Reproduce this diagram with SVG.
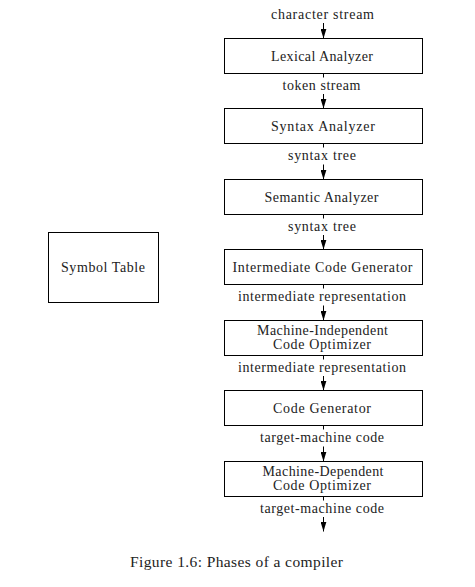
<svg xmlns="http://www.w3.org/2000/svg" width="475" height="587" viewBox="0 0 475 587">
<style>
.box{fill:#fff;stroke:#000;stroke-width:1}
.t,.lbl,.cap{font-family:"Liberation Serif","Times New Roman",serif;fill:#222;text-anchor:middle}
.t,.lbl{font-size:14px}
.cap{font-size:15.5px}
.c{stroke:#000;stroke-width:1;fill:none}
</style>
<defs>
<marker id="ah" markerUnits="userSpaceOnUse" markerWidth="10" markerHeight="6" refX="10" refY="3" orient="auto">
<path d="M0,0 L10,3 L0,6 z" fill="#000"/>
</marker>
</defs>
<rect width="475" height="587" fill="#fff"/>
<g id="connectors">
<line class="c" x1="323.5" y1="23" x2="323.5" y2="38.5" marker-end="url(#ah)"/>
<line class="c" x1="323.5" y1="73.5" x2="323.5" y2="77.5"/>
<line class="c" x1="323.5" y1="94" x2="323.5" y2="108.5" marker-end="url(#ah)"/>
<line class="c" x1="323.5" y1="143.5" x2="323.5" y2="147.5"/>
<line class="c" x1="323.5" y1="164.5" x2="323.5" y2="179.5" marker-end="url(#ah)"/>
<line class="c" x1="323.5" y1="214.5" x2="323.5" y2="218.5"/>
<line class="c" x1="323.5" y1="235" x2="323.5" y2="249.5" marker-end="url(#ah)"/>
<line class="c" x1="323.5" y1="284.5" x2="323.5" y2="288.5"/>
<line class="c" x1="323.5" y1="305.5" x2="323.5" y2="320.5" marker-end="url(#ah)"/>
<line class="c" x1="323.5" y1="355.5" x2="323.5" y2="359.5"/>
<line class="c" x1="323.5" y1="376" x2="323.5" y2="390.5" marker-end="url(#ah)"/>
<line class="c" x1="323.5" y1="425.5" x2="323.5" y2="429.5"/>
<line class="c" x1="323.5" y1="446.5" x2="323.5" y2="461.5" marker-end="url(#ah)"/>
<line class="c" x1="323.5" y1="496.5" x2="323.5" y2="500.5"/>
<line class="c" x1="323.5" y1="517" x2="323.5" y2="531.5" marker-end="url(#ah)"/>
<text class="lbl" x="322.5" y="18.5" textLength="103" lengthAdjust="spacing">character stream</text>
<text class="lbl" x="321.5" y="89.5" textLength="78" lengthAdjust="spacing">token stream</text>
<text class="lbl" x="322" y="160" textLength="68" lengthAdjust="spacing">syntax tree</text>
<text class="lbl" x="322" y="230.5" textLength="68" lengthAdjust="spacing">syntax tree</text>
<text class="lbl" x="322" y="301" textLength="168" lengthAdjust="spacing">intermediate representation</text>
<text class="lbl" x="322" y="371.5" textLength="168" lengthAdjust="spacing">intermediate representation</text>
<text class="lbl" x="322" y="442" textLength="124" lengthAdjust="spacing">target-machine code</text>
<text class="lbl" x="322" y="512.5" textLength="124" lengthAdjust="spacing">target-machine code</text>
</g>
<g id="lexical">
<rect class="box" x="224.5" y="38.5" width="198" height="35"/>
<text class="t" x="322" y="60.5" textLength="102" lengthAdjust="spacing">Lexical Analyzer</text>
</g>
<g id="syntax">
<rect class="box" x="224.5" y="108.5" width="198" height="35"/>
<text class="t" x="323" y="130.5" textLength="104" lengthAdjust="spacing">Syntax Analyzer</text>
</g>
<g id="semantic">
<rect class="box" x="224.5" y="179.5" width="198" height="35"/>
<text class="t" x="321.5" y="201.5" textLength="114" lengthAdjust="spacing">Semantic Analyzer</text>
</g>
<g id="icg">
<rect class="box" x="224.5" y="249.5" width="198" height="35"/>
<text class="t" x="322.5" y="271.5" textLength="180" lengthAdjust="spacing">Intermediate Code Generator</text>
</g>
<g id="mio">
<rect class="box" x="224.5" y="320.5" width="198" height="35"/>
<text class="t" x="322.5" y="334.5" textLength="131" lengthAdjust="spacing">Machine-Independent</text>
<text class="t" x="322" y="348.5" textLength="98" lengthAdjust="spacing">Code Optimizer</text>
</g>
<g id="codegen">
<rect class="box" x="224.5" y="390.5" width="198" height="35"/>
<text class="t" x="322" y="412.5" textLength="98" lengthAdjust="spacing">Code Generator</text>
</g>
<g id="mdo">
<rect class="box" x="224.5" y="461.5" width="198" height="35"/>
<text class="t" x="323" y="475.5" textLength="121" lengthAdjust="spacing">Machine-Dependent</text>
<text class="t" x="322" y="489.5" textLength="98" lengthAdjust="spacing">Code Optimizer</text>
</g>
<g id="symtab">
<rect class="box" x="48.5" y="232.5" width="110" height="70"/>
<text class="t" x="103" y="271.5" textLength="84" lengthAdjust="spacing">Symbol Table</text>
</g>
<text class="cap" x="236.5" y="566.5" textLength="213" lengthAdjust="spacing">Figure 1.6: Phases of a compiler</text>
</svg>
